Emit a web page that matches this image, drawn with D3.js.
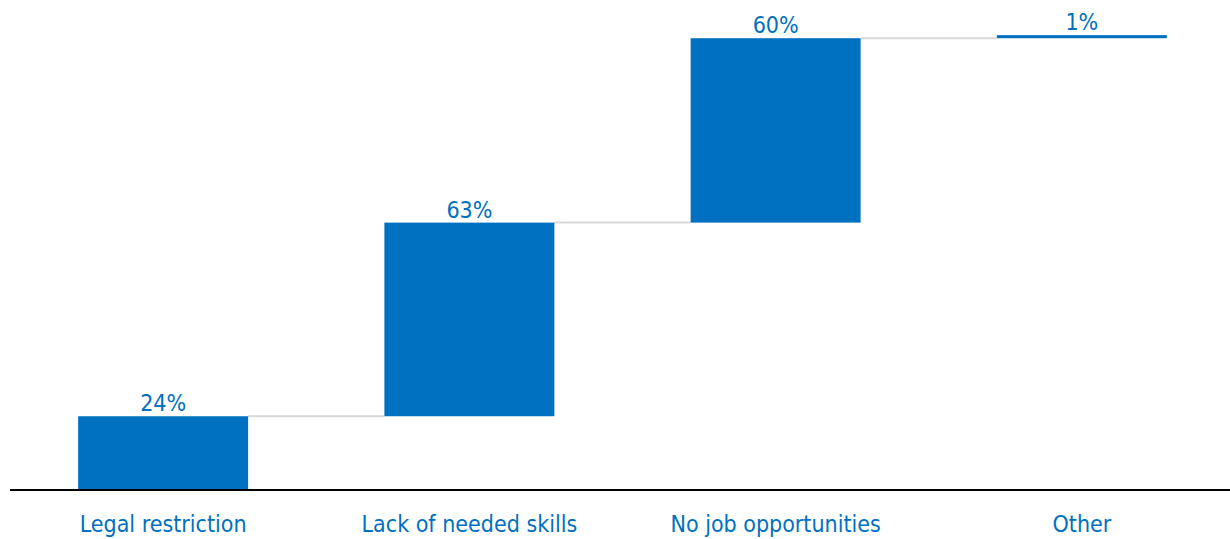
<!DOCTYPE html>
<html>
<head>
<meta charset="utf-8">
<script src="https://cdn.jsdelivr.net/npm/d3@7"></script>
<style>
  html, body { margin: 0; padding: 0; background: #ffffff; }
  svg { display: block; }
  text { font-family: "DejaVu Sans Condensed", "DejaVu Sans", Verdana, sans-serif; }
</style>
</head>
<body>
<svg id="chart" width="1230" height="539"></svg>
<script>
// Reasons given, each adding to the running total
const categories = ["Legal restriction", "Lack of needed skills", "No job opportunities", "Other"];
const values = [24, 63, 60, 1];
const valueLabels = ["24%", "63%", "60%", "1%"];

const width = 1230, height = 539;
const baseY = 490;
const blue = "#0070C0";
const fontFamily = "'DejaVu Sans Condensed', 'DejaVu Sans', Verdana, sans-serif";

// running start/end for each step of the waterfall
let acc = 0;
const steps = categories.map((c, i) => {
  const start = acc;
  acc += values[i];
  return { cat: c, start, end: acc, label: valueLabels[i] };
});

const x = d3.scaleBand()
  .domain(categories)
  .range([10, 1235])
  .paddingInner(0.445)
  .paddingOuter(0.2225);

const y = d3.scaleLinear()
  .domain([0, 150])
  .range([baseY, 29]);

const svg = d3.select("#chart");

// connector lines between consecutive steps
svg.append("g").selectAll("line")
  .data(steps.slice(0, -1))
  .join("line")
  .attr("x1", (d) => x(d.cat) + x.bandwidth())
  .attr("x2", (d, i) => x(steps[i + 1].cat))
  .attr("y1", (d) => y(d.end))
  .attr("y2", (d) => y(d.end))
  .attr("stroke", "#d9d9d9")
  .attr("stroke-width", 2);

// bars
svg.append("g").selectAll("rect")
  .data(steps)
  .join("rect")
  .attr("x", (d) => x(d.cat))
  .attr("width", x.bandwidth())
  .attr("y", (d) => y(d.end))
  .attr("height", (d) => y(d.start) - y(d.end))
  .attr("fill", blue);

// value labels above each bar
svg.append("g").selectAll("text")
  .data(steps)
  .join("text")
  .attr("x", (d) => x(d.cat) + x.bandwidth() / 2)
  .attr("y", (d) => y(d.end) - 5)
  .attr("text-anchor", "middle")
  .attr("font-family", fontFamily)
  .attr("font-size", 23)
  .attr("fill", blue)
  .text((d) => d.label);

// baseline axis
const axis = d3.axisBottom(x).tickSize(0).tickPadding(0);
const gx = svg.append("g")
  .attr("transform", `translate(0,${baseY})`)
  .call(axis);
gx.select(".domain").remove();
gx.append("line")
  .attr("x1", 10).attr("x2", 1230)
  .attr("stroke", "#000").attr("stroke-width", 2);
gx.selectAll(".tick text")
  .attr("y", 41.5)
  .attr("dy", null)
  .attr("font-family", fontFamily)
  .attr("font-size", 23)
  .attr("fill", blue);
</script>
</body>
</html>
